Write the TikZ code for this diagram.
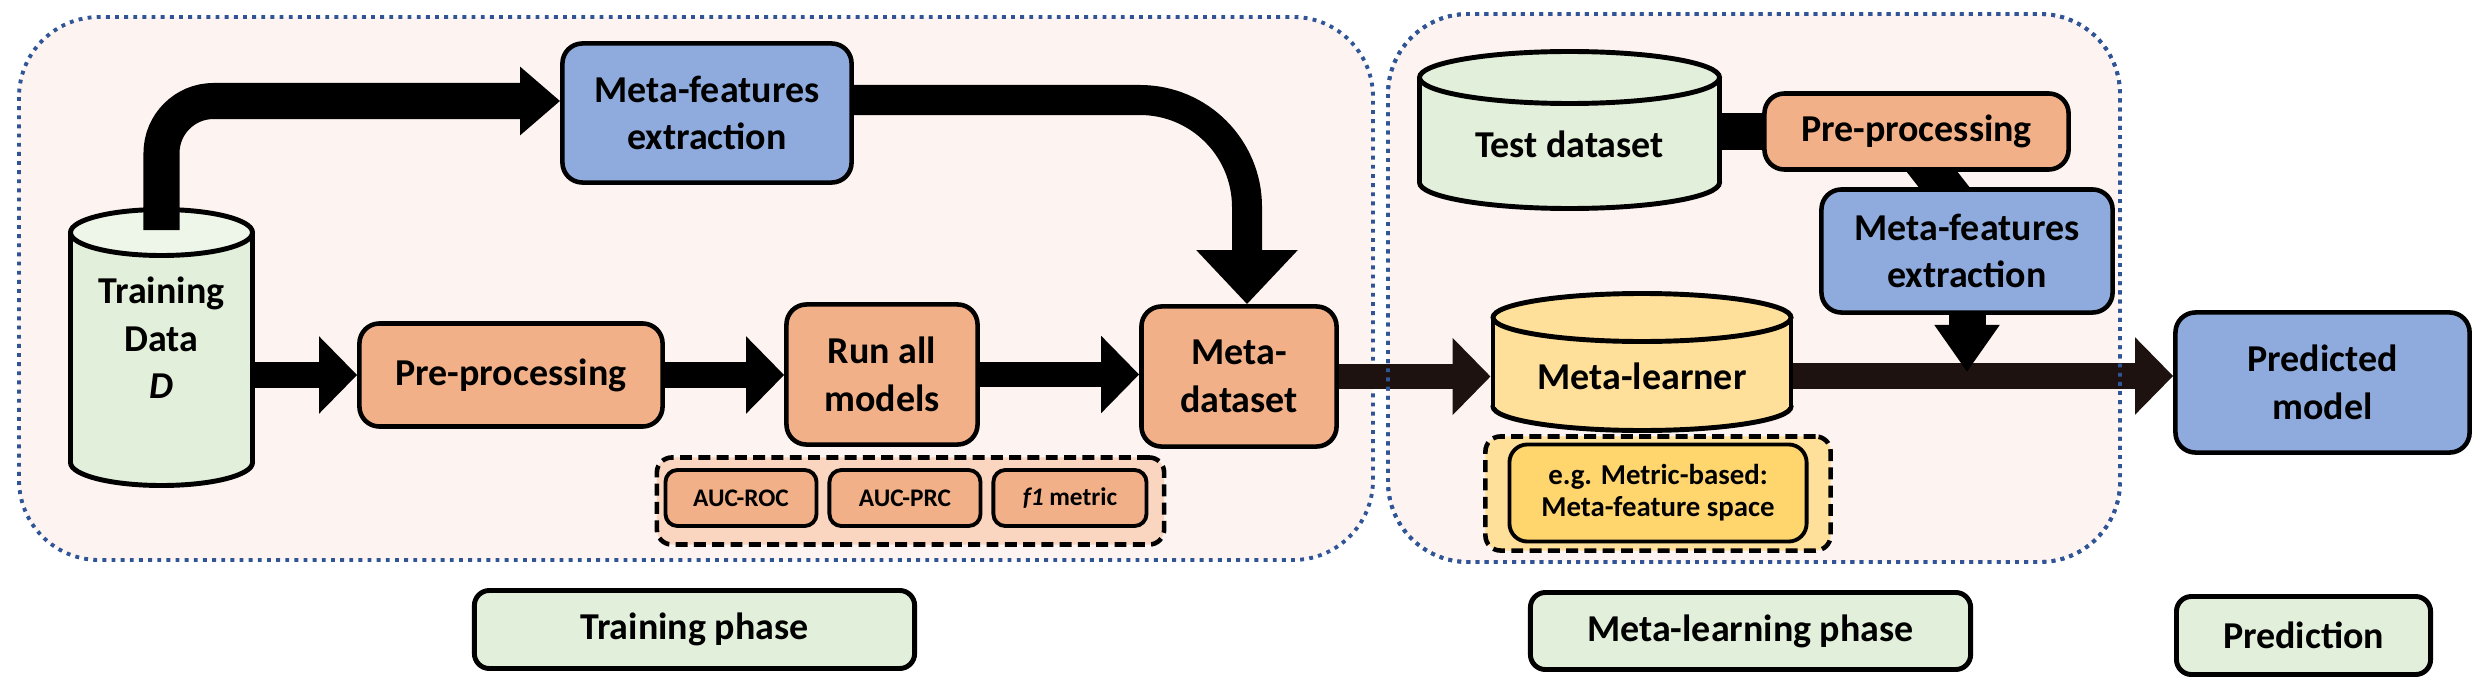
\documentclass[tikz,border=0pt]{standalone}
\usepackage{fontspec}
\setmainfont{Carlito}
\usetikzlibrary{positioning}
\usetikzlibrary{calc}
\usetikzlibrary{arrows.meta}

\definecolor{procorange}{RGB}{241,176,136}
\definecolor{featblue}{RGB}{143,170,220}
\definecolor{datagreen}{RGB}{226,239,218}
\definecolor{datagreentop}{RGB}{238,246,233}
\definecolor{learnyellow}{RGB}{255,224,155}
\definecolor{learngold}{RGB}{255,214,110}
\definecolor{metricpeach}{RGB}{250,214,192}
\definecolor{phasebg}{RGB}{253,244,241}
\definecolor{dotblue}{RGB}{47,85,151}
\definecolor{darkflow}{RGB}{30,18,16}

\pgfdeclarelayer{regions}
\pgfdeclarelayer{links}
\pgfsetlayers{regions,links,main}

% database cylinder: name, cx, top, bottom, rx, ry, body fill, lid fill
\newcommand{\dbcyl}[8]{%
    \fill[#7, draw=black, line width=1.4pt] (#2,#4-#6) ellipse [x radius=#5*0.01cm, y radius=#6*0.01cm];
    \fill[#7] (#2-#5,#3+#6) rectangle (#2+#5,#4-#6);
    \draw[line width=1.4pt] (#2-#5,#3+#6) -- (#2-#5,#4-#6) (#2+#5,#3+#6) -- (#2+#5,#4-#6);
    \draw[fill=#8, line width=1.4pt] (#2,#3+#6) ellipse [x radius=#5*0.01cm, y radius=#6*0.01cm];
    \node[inner sep=0pt, outer sep=0pt, minimum width=2*#5*0.01cm+1.4pt,
          minimum height=(#4-#3)*0.01cm+1.4pt] (#1) at (#2,{(#3+#4)/2}) {};%
}

\begin{document}
\begin{tikzpicture}[x=0.01cm, y=-0.01cm,
    box/.style={rectangle, rounded corners=0.2cm, draw=black, line width=1.3pt, align=center, inner sep=0pt,
                font=\bfseries\fontsize{10.8}{13.5}\selectfont},
    proc/.style={box, fill=procorange},
    feat/.style={box, fill=featblue},
    phase/.style={box, fill=datagreen, line width=1.4pt, rounded corners=0.15cm},
    metric/.style={box, fill=procorange, line width=1.1pt, rounded corners=0.12cm,
                   minimum width=1.51cm, minimum height=0.56cm, font=\bfseries\fontsize{7.2}{9}\selectfont},
    group/.style={rectangle, rounded corners=0.15cm, draw=black, line width=1.3pt, dash pattern=on 3.4pt off 1.8pt},
    cyltext/.style={align=center, inner sep=0pt, font=\bfseries\fontsize{10.8}{13.5}\selectfont},
    region/.style={draw=dotblue, line width=1.1pt, dash pattern=on 1.1pt off 1.5pt, rounded corners=0.8cm},
    flow/.style={line width=0.25cm, -{Triangle[length=0.38cm, width=0.75cm]}},
    bar/.style={line width=0.36cm}]

    \useasboundingbox (0,0) rectangle (2486,688);

    \begin{pgfonlayer}{regions}
        \fill[phasebg, region] (19,17) rectangle (1373,560);
        \fill[phasebg, region] (1388,14) rectangle (2120,562);
    \end{pgfonlayer}

    % training phase
    \dbcyl{TD}{161.5}{209.5}{485.5}{91}{23}{datagreen}{datagreentop}
    \node[cyltext] (TDlbl) at (161.5,338) {Training\\Data\\\textit{D}};

    \node[feat, minimum width=2.89cm, minimum height=1.39cm] (MF1) at (707,113) {Meta-features\\extraction};
    \node[proc, minimum width=3.03cm, minimum height=1.03cm] (PP1) at (511,375) {Pre-processing};
    \node[proc, minimum width=1.91cm, minimum height=1.40cm] (RM) at (882,374.5) {Run all\\models};
    \node[proc, minimum width=1.95cm, minimum height=1.40cm] (MD) at (1239,376.5) {Meta-\\dataset};

    \node[group, fill=metricpeach, minimum width=5.07cm, minimum height=0.87cm] (MG) at (910.5,501) {};
    \node[metric] (ROC) at (741,498) {AUC-ROC};
    \node[metric, right=0.09cm of ROC] (PRC) {AUC-PRC};
    \node[metric, right=0.09cm of PRC, minimum width=1.53cm] (F1) {\textit{f1} metric};

    % meta-learning phase
    \dbcyl{TS}{1569.5}{51.5}{208.5}{150}{26}{datagreen}{datagreen}
    \node[cyltext] (TSlbl) at (1569.5,144) {Test dataset};
    \node[proc, minimum width=3.04cm, minimum height=0.76cm] (PP2) at (1916.5,131.5) {Pre-processing};
    \node[feat, minimum width=2.91cm, minimum height=1.23cm] (MF2) at (1967,251) {Meta-features\\extraction};

    \dbcyl{ML}{1642}{293.5}{430.5}{149}{24}{learnyellow}{learnyellow}
    \node[cyltext] (MLlbl) at (1642,376) {Meta-learner};
    \node[group, fill=learnyellow, minimum width=3.45cm, minimum height=1.14cm] (MLG) at (1658,493.5) {};
    \node[box, fill=learngold, line width=1.1pt, rounded corners=0.18cm, minimum width=2.97cm, minimum height=0.97cm,
          font=\bfseries\fontsize{8.2}{9.1}\selectfont] (MLS) at (1658,493) {e.g. Metric-based:\\Meta-feature space};

    % prediction
    \node[feat, minimum width=2.94cm, minimum height=1.40cm] (PM) at (2322.5,382.5) {Predicted\\model};

    \node[phase, minimum width=4.40cm, minimum height=0.78cm] (TRP) at (694.5,629.5) {Training phase};
    \node[phase, minimum width=4.40cm, minimum height=0.77cm] (MLP) at (1750.5,631) {Meta-learning phase};
    \node[phase, minimum width=2.54cm, minimum height=0.78cm] (PRP) at (2303.5,635.5) {Prediction};

    % connectors
    \begin{pgfonlayer}{links}
        \draw[bar, line width=0.40cm] ($(PP2.center)+(-16,0)$) -- ($(MF2.center)+(27,0)$);
    \end{pgfonlayer}

    \draw[flow, line width=0.36cm, rounded corners=0.52cm, -{Triangle[length=0.40cm, width=0.66cm]}]
        ($(TD.north)+(0,23)$) |- ($(MF1.west)+(0,-12)$);
    \draw[flow, line width=0.30cm, rounded corners=1.07cm, -{Triangle[length=0.54cm, width=0.98cm]}]
        ($(MF1.east)+(0,-13)$) -| ($(MD.north)+(8,0)$);
    \draw[flow] (TD.east |- PP1.west) -- (PP1.west);
    \draw[flow] (PP1.east) -- (PP1.east -| RM.west);
    \draw[flow] (RM.east) -- (RM.east -| MD.west);
    \draw[flow, darkflow] (MD.east) -- (MD.east -| ML.west);

    \draw[bar] (TS.east |- PP2.west) -- (PP2.west);
    \coordinate (MLout) at ($(ML.east)+(0,14)$);
    \draw[flow, darkflow] (MLout) -- (MLout -| PM.west);
    \coordinate (join) at ($(ML.east)+(0,10)$);
    \draw[flow, line width=0.37cm, -{Triangle[length=0.47cm, width=0.62cm]}] (MF2.south) -- (MF2.south |- join);

    \draw[region] (1388,14) rectangle (2120,562);
\end{tikzpicture}
\end{document}
